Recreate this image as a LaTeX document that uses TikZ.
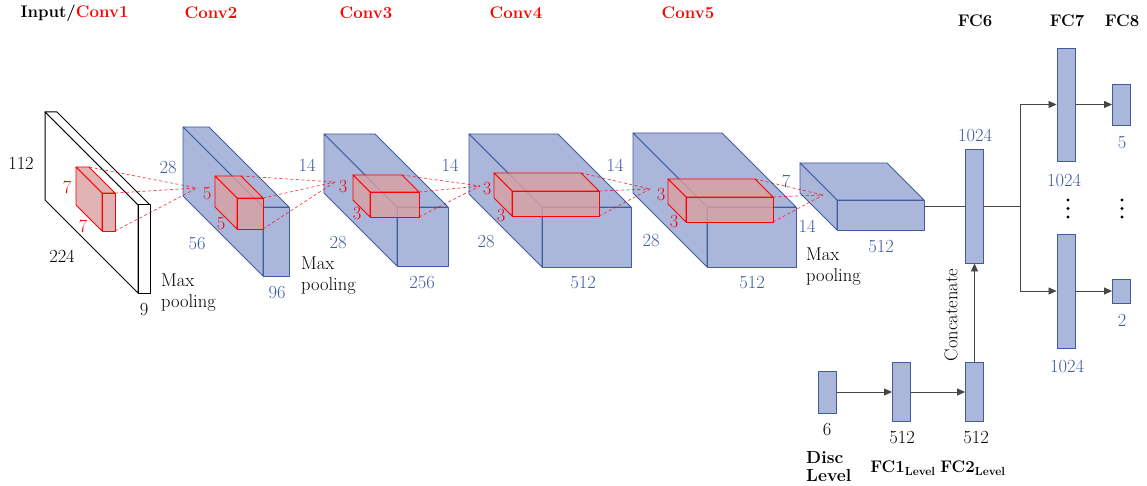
\documentclass[tikz,border=0pt]{standalone}
\usepackage{fontspec}
\usetikzlibrary{calc,arrows.meta}

\definecolor{cnnblue}{RGB}{62,92,160}
\definecolor{cnnfill}{RGB}{170,183,219}
\definecolor{kernfill}{RGB}{218,160,162}
\definecolor{linkgray}{RGB}{70,70,70}

% A cuboid seen from the front-right: front face at (#2,#3), size #4 x #5,
% receding by #6 towards the upper left. Corners are kept as named coordinates.
\newcommand\drawcuboid[7]{%
  \coordinate (#1-ftl) at (#2,#3);
  \coordinate (#1-ftr) at ($(#1-ftl)+(#4,0)$);
  \coordinate (#1-fbr) at ($(#1-ftl)+(#4,#5)$);
  \coordinate (#1-fbl) at ($(#1-ftl)+(0,#5)$);
  \coordinate (#1-btl) at ($(#1-ftl)+(-#6,-#6)$);
  \coordinate (#1-btr) at ($(#1-ftr)+(-#6,-#6)$);
  \coordinate (#1-bbl) at ($(#1-fbl)+(-#6,-#6)$);
  \path[#7] (#1-ftl) -- (#1-btl) -- (#1-btr) -- (#1-ftr) -- cycle;
  \path[#7] (#1-ftl) -- (#1-btl) -- (#1-bbl) -- (#1-fbl) -- cycle;
  \path[#7] (#1-ftl) rectangle (#1-fbr);
}

\tikzset{
  every node/.style={inner sep=0pt, font=\fontsize{18.5}{21}\selectfont},
  slab/.style={draw=black, fill=white, line width=1.0pt, line join=round},
  blueface/.style={draw=cnnblue, fill=cnnfill, line width=0.9pt, line join=round},
  kernel/.style={draw=red, fill=kernfill, fill opacity=0.8, line width=0.9pt, line join=round},
  rf/.style={draw=red, dash pattern=on 3pt off 2.5pt, line width=0.7pt, draw opacity=0.75},
  bl/.style={text=cnnblue},
  rl/.style={text=red},
  twoline/.style={align=left, anchor=west},
  fcbox/.style={draw=cnnblue, fill=cnnfill, line width=0.9pt, minimum width=18pt},
  link/.style={draw=linkgray, line width=0.8pt},
  arr/.style={link, -{Triangle[length=8pt,width=7pt]}},
  ttl/.style={font=\fontsize{16.8}{20}\selectfont\bfseries},
}

\begin{document}
\begin{tikzpicture}[x=1pt,y=-1pt]
\useasboundingbox (0,0) rectangle (1147,486);

% ---- layer titles
\node[ttl] (t1) at (74.5,13) {Input/\textcolor{red}{Conv1}};
\node[ttl, rl] (t2) at (211,13) {Conv2};
\node[ttl, rl] (t3) at (366,13) {Conv3};
\node[ttl, rl] (t4) at (516,13) {Conv4};
\node[ttl, rl] (t5) at (688,13) {Conv5};
\node[ttl] (t6) at (975,21) {FC6};
\node[ttl] (t7) at (1067,21) {FC7};
\node[ttl] (t8) at (1122,21) {FC8};

% ---- volumes and receptive fields
\drawcuboid{in}{138}{205}{12}{88}{93}{slab}
\drawcuboid{k1}{102}{193}{13}{38}{26}{kernel}
\drawcuboid{c2}{263}{207}{26}{69}{80}{blueface}
\drawcuboid{k2}{237}{198}{26}{31}{22}{kernel}
\drawcuboid{c3}{397}{207}{51}{59}{73}{blueface}
\drawcuboid{k3}{370}{192}{49}{25}{17}{kernel}
\drawcuboid{c4}{542}{207}{89}{60}{73}{blueface}
\drawcuboid{k4}{512}{191}{87}{25}{18}{kernel}
\drawcuboid{c5}{707}{207}{89}{60}{74}{blueface}
\drawcuboid{k5}{686}{197}{87}{25}{18}{kernel}
\drawcuboid{p5}{837}{200}{87}{30}{37}{blueface}

% ---- projections of each kernel onto the next volume
\coordinate (f2) at (197,188);
\coordinate (f3) at (335,182);
\coordinate (f4) at (480,186);
\coordinate (f5) at (650,189);
\coordinate (f6) at (823,195);
\foreach \k/\f in {k1/f2,k2/f3,k3/f4,k4/f5,k5/f6}{
  \draw[rf] (\k-btr) -- (\f);
  \draw[rf] (\k-ftr) -- (\f);
  \draw[rf] (\k-fbr) -- (\f);
}

% ---- dimension labels
\node (d112) at (21,163) {112};
\node (d224) at (62,256) {224};
\node (d9) at (144,310) {9};
\node[rl] (k1a) at (67,187) {7};
\node[rl] (k1b) at (83,226) {7};
\node[twoline] (mp1) at (161,293) {Max\\pooling};

\node[bl] (d2a) at (168,168) {28};
\node[bl] (d2b) at (197,244) {56};
\node[bl] (d2c) at (277,293) {96};
\node[rl] (k2a) at (207,194) {5};
\node[rl] (k2b) at (221,224) {5};
\node[twoline] (mp2) at (301,276) {Max\\pooling};

\node[bl] (d3a) at (307,165) {14};
\node[bl] (d3b) at (338,243) {28};
\node[bl] (d3c) at (422,283) {256};
\node[rl] (k3a) at (343,187) {3};
\node[rl] (k3b) at (357,214) {3};

\node[bl] (d4a) at (450,165) {14};
\node[bl] (d4b) at (486,242) {28};
\node[bl] (d4c) at (583,283) {512};
\node[rl] (k4a) at (487,189) {3};
\node[rl] (k4b) at (501,216) {3};

\node[bl] (d5a) at (615,165) {14};
\node[bl] (d5b) at (651,241) {28};
\node[bl] (d5c) at (752,283) {512};
\node[rl] (k5a) at (661,195) {3};
\node[rl] (k5b) at (674,222) {3};
\node[bl] (d6a) at (786,181) {7};
\node[bl] (d6b) at (807,226) {14};
\node[twoline] (mp3) at (806,267) {Max\\pooling};
\node[bl] (d6c) at (881,247) {512};

% ---- fully connected layers
\node[fcbox, minimum height=114pt] (fc6) at (974.5,206) {};
\node[fcbox, minimum height=113pt] (fc7a) at (1066,104.5) {};
\node[fcbox, minimum height=114pt] (fc7b) at (1066,291) {};
\node[fcbox, minimum height=41pt] (fc8a) at (1121.5,104.5) {};
\node[fcbox, minimum height=24pt] (fc8b) at (1121.5,291) {};
\node[fcbox, minimum height=42pt] (disc) at (827.5,392) {};
\node[fcbox, minimum height=59pt] (fc1) at (901.5,392) {};
\node[fcbox, minimum height=59pt] (fc2) at (974.5,392) {};

\node[bl] (n6) at (975,135) {1024};
\node[bl] (n7a) at (1064,180) {1024};
\node[bl] (n7b) at (1067,366) {1024};
\node[bl] (n8a) at (1122,143) {5};
\node[bl] (n8b) at (1122,320) {2};
\foreach \x in {1068,1122}{
  \foreach \y in {200,208.5,217}{
    \fill (\x,\y) circle (1.6pt);
  }
}

\node (nd) at (827,430) {6};
\node (n1) at (902,438) {512};
\node (n2) at (976,438) {512};
\node[twoline, font=\fontsize{17.5}{18}\selectfont\bfseries] (ld) at (806,467) {Disc\\Level};
\node[ttl] (l1) at (903,468) {FC1\textsubscript{Level}};
\node[ttl] (l2) at (973,468) {FC2\textsubscript{Level}};
\node[rotate=90] (cc) at (951,315) {Concatenate};

% ---- connections
\coordinate (split) at (1020,206);
\draw[link] (fc6.west -| p5-ftr) -- (fc6.west);
\draw[link] (fc6.east) -- (split);
\draw[arr] (split) |- (fc7a.west);
\draw[arr] (split) |- (fc7b.west);
\draw[arr] (fc7a.east) -- (fc8a.west);
\draw[arr] (fc7b.east) -- (fc8b.west);
\draw[arr] (disc.east) -- (fc1.west);
\draw[arr] (fc1.east) -- (fc2.west);
\draw[arr] (fc2.north) -- (fc6.south);
\end{tikzpicture}
\end{document}
